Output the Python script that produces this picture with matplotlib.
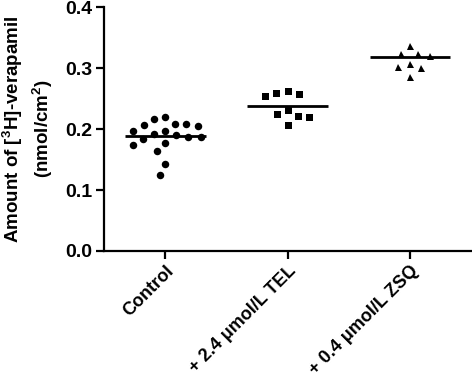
import numpy as np
import matplotlib.pyplot as plt

plt.rcParams['font.family'] = ['Liberation Sans', 'DejaVu Sans']
plt.rcParams['font.weight'] = 'bold'
plt.rcParams['mathtext.fontset'] = 'custom'
plt.rcParams['mathtext.rm'] = 'Liberation Sans:bold'
plt.rcParams['mathtext.bf'] = 'Liberation Sans:bold'

# ---- data ----
groups = ['Control', '+ 2.4 μmol/L TEL', '+ 0.4 μmol/L ZSQ']
control = [0.220, 0.209, 0.206, 0.197, 0.197, 0.205, 0.208, 0.216, 0.192,
           0.187, 0.183, 0.187, 0.190, 0.174, 0.177, 0.164, 0.142, 0.125]
tel = [0.260, 0.254, 0.258, 0.263, 0.222, 0.232, 0.220, 0.224, 0.207]
zsq = [0.320, 0.324, 0.336, 0.323, 0.302, 0.306, 0.300, 0.286]
means = [0.188, 0.238, 0.319]

markers = ['o', 's', '^']
msizes = [7.5, 7.0, 7.0]

fig = plt.figure(figsize=(4.72, 3.78), dpi=100)
ax = fig.add_axes([0.221, 0.336, 0.777, 0.645])
ax.set_xlim(-0.5, 2.5)
ax.set_ylim(0, 0.4)


def swarm(values, gap_px):
    # simple beeswarm: place each point at the smallest horizontal offset
    # that keeps it gap_px away from the points already placed
    px_x = ax.bbox.width / 3.0
    px_y = ax.bbox.height / 0.4
    ys = np.asarray(values) * px_y
    order = np.argsort(-ys)
    placed = []
    offs = np.zeros(len(ys))
    steps = np.arange(0, 80, 0.5)
    cands = [0.0] + [s * sg for s in steps[1:] for sg in (-1, 1)]
    for i in order:
        for c in cands:
            ok = all((c - px) ** 2 + (ys[i] - py) ** 2 >= gap_px ** 2
                     for px, py in placed)
            if ok:
                offs[i] = c
                placed.append((c, ys[i]))
                break
    return offs / px_x


for k, vals in enumerate([control, tel, zsq]):
    dx = swarm(vals, 11.5)
    ax.plot(k + dx, vals, linestyle='none', marker=markers[k],
            markersize=msizes[k] * 0.72, color='black', markeredgewidth=0)
    ax.hlines(means[k], k - 0.33, k + 0.33, color='black', lw=2)

ax.set_xticks(range(len(groups)))
ax.set_xticklabels(groups, rotation=45, ha='right', rotation_mode='anchor',
                   fontsize=13, fontweight='bold')
ax.set_yticks([0.0, 0.1, 0.2, 0.3, 0.4])
ax.set_yticklabels(['0.0', '0.1', '0.2', '0.3', '0.4'], fontsize=14,
                   fontweight='bold')

for s in ['top', 'right']:
    ax.spines[s].set_visible(False)
for s in ['left', 'bottom']:
    ax.spines[s].set_linewidth(1.6)
ax.tick_params(width=1.6, length=5.5, pad=3)
ax.tick_params(axis='x', pad=2.5)

ax.set_ylabel('Amount of [$^{\\mathbf{3}}$H]-verapamil\n(nmol/cm$^{\\mathbf{2}}$)',
              fontsize=13.5, fontweight='bold', linespacing=1.25)
ax.yaxis.set_label_coords(-0.135, 0.5)

fig.savefig('out.png', dpi=100)
